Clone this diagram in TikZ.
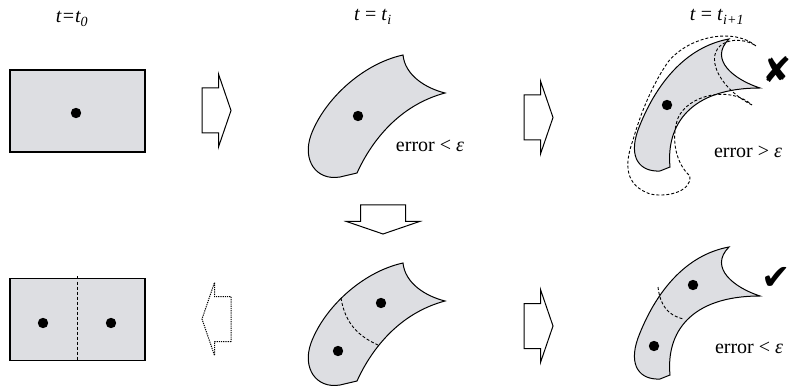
\documentclass[tikz,border=0pt]{standalone}
\usepackage{fontspec}
\setmainfont{Liberation Serif}
\newfontfamily\markfont{DejaVu Sans}
\usetikzlibrary{positioning}
\definecolor{cellgray}{RGB}{221,222,226}

\tikzset{
  lbl/.style={font=\fontsize{20}{22}\selectfont,inner sep=0pt},
  verdict/.style={font=\markfont\fontsize{35}{35}\selectfont,inner sep=0pt},
  cellbox/.style={draw,fill=cellgray,line width=1.3pt,minimum width=135pt,
    minimum height=82pt,inner sep=0pt,outer sep=0pt},
  cut/.style={line width=0.9pt,dash pattern=on 3pt off 2pt},
  pics/blockarrow/.style={code={
    \draw[pic actions,line width=1pt]
      (0,-22.5) -- (16.5,-22.5) -- (16.5,-36.5) -- (29,0) -- (16.5,36.5)
      -- (16.5,22.5) -- (0,22.5) -- cycle;
  }},
  % cell at t_i
  pics/cellA/.style={code={
    \draw[fill=cellgray,line width=1pt]
      (403,55) .. controls (362,64) and (324,100) .. (311,135)
      .. controls (302,160) and (316,181) .. (340,177) -- (357,173)
      .. controls (372,140) and (400,105) .. (445,93)
      .. controls (425,88) and (405,75) .. (403,55) -- cycle;
  }},
  % cell at t_{i+1}
  pics/cellB/.style={code={
    \draw[fill=cellgray,line width=1pt]
      (729,39) .. controls (685,47) and (655,85) .. (638,130)
      .. controls (628,158) and (640,172) .. (660,171) -- (670,167)
      .. controls (666,125) and (690,88) .. (760,88)
      .. controls (735,80) and (708,60) .. (729,39) -- cycle;
  }}
}

\begin{document}
\begin{tikzpicture}[x=1pt,y=-1pt]
  \useasboundingbox (0,0) rectangle (792,387);

  % time labels
  \node[lbl,anchor=base] (tzero) at (72,23) {\textit{t=t\textsubscript{0}}};
  \node[lbl,anchor=base] (tcur) at (373,21) {\textit{t} = \textit{t}\textsubscript{\textit{i}}};
  \node[lbl,anchor=base] (tnext) at (717,21) {\textit{t} = \textit{t}\textsubscript{\textit{i+1}}};

  % initial cells
  \node[cellbox] (rect0) at (77.5,111) {};
  \node[cellbox] (rect1) at (77.5,319.5) {};
  \draw[cut] ([yshift=2pt]rect1.north) -- (rect1.south);
  \fill (76,113) circle (5.2pt);
  \fill (43,323) circle (5.2pt);
  \fill (111,323) circle (5.2pt);

  % block arrows
  \pic at (202,110.5) {blockarrow};
  \pic at (524,117.5) {blockarrow};
  \pic at (524,326) {blockarrow};
  \pic[rotate=-90] at (383,205) {blockarrow};
  \pic[rotate=180,densely dotted,line width=1.2pt] at (231,319) {blockarrow};

  % deformed cells, top row
  \pic at (0,0) {cellA};
  \fill (358,116) circle (5.2pt);
  \node[lbl,anchor=base] (errA) at (430,152) {error < \textit{ε}};

  \pic at (0,0) {cellB};
  \draw[cut]
    (752,105) .. controls (722,90) and (705,60) .. (720,46)
    .. controls (730,37) and (748,40) .. (756,46)
    .. controls (735,28) and (690,35) .. (668,62)
    .. controls (652,85) and (640,115) .. (633,140)
    .. controls (624,165) and (625,185) .. (650,194)
    .. controls (670,198) and (692,190) .. (690,176)
    .. controls (677,165) and (670,140) .. (678,118)
    .. controls (688,95) and (730,85) .. (752,105);
  \fill (667,105) circle (5.2pt);
  \node[lbl,anchor=base] (errB) at (748,158) {error > \textit{ε}};
  \node[verdict] (bad) at (777,70) {✘};

  % refined cells, bottom row
  \pic at (0,208) {cellA};
  \draw[cut] (341,298) .. controls (345,323) and (358,336) .. (378,345);
  \fill (381,303) circle (5.2pt);
  \fill (338,351) circle (5.2pt);

  \pic at (0,208) {cellB};
  \draw[cut] (658,287) .. controls (660,305) and (668,316) .. (684,319);
  \fill (693,285) circle (5.2pt);
  \fill (654,346) circle (5.2pt);
  \node[lbl,anchor=base] (errC) at (749,353) {error < \textit{ε}};
  \node[verdict] (good) at (776,278) {✔};
\end{tikzpicture}
\end{document}
